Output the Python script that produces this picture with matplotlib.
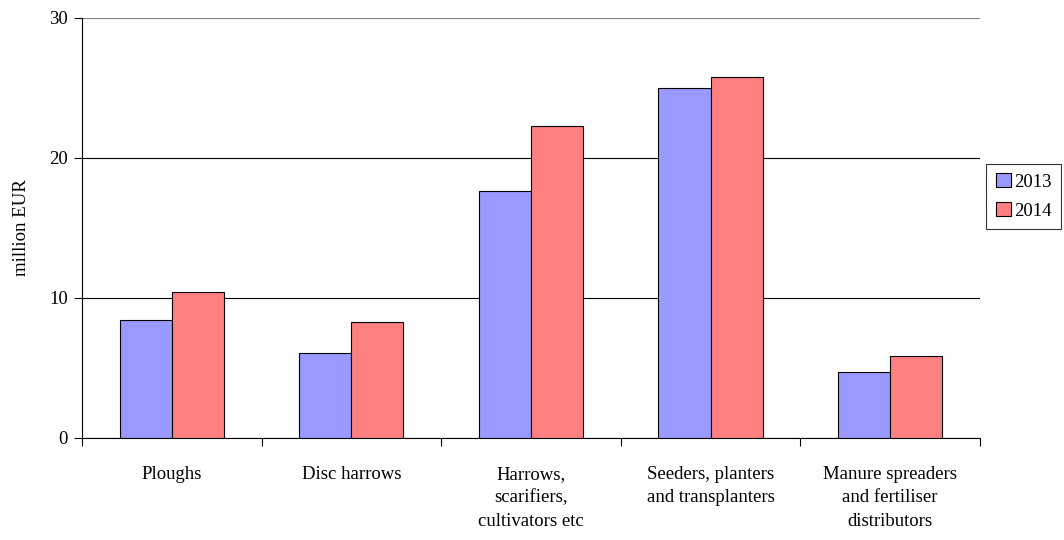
import numpy as np
import matplotlib
matplotlib.use('Agg')
import matplotlib.pyplot as plt

plt.rcParams['font.family'] = ['Liberation Serif', 'DejaVu Serif']

categories = ['Ploughs', 'Disc harrows', 'Harrows,\nscarifiers,\ncultivators etc',
              'Seeders, planters\nand transplanters',
              'Manure spreaders\nand fertiliser\ndistributors']
values_2013 = [8.45, 6.1, 17.65, 25.0, 4.7]
values_2014 = [10.45, 8.3, 22.25, 25.75, 5.85]
series_labels = ['2013', '2014']
colors = ['#9999FF', '#FF8080']

fig = plt.figure(figsize=(10.64, 5.40), dpi=100)
ax = fig.add_axes([0.077, 0.189, 0.844, 0.778])

x = np.arange(len(categories))
width = 0.29
ax.bar(x - width / 2, values_2013, width, color=colors[0], edgecolor='black',
       linewidth=0.8, label=series_labels[0], zorder=3)
ax.bar(x + width / 2, values_2014, width, color=colors[1], edgecolor='black',
       linewidth=0.8, label=series_labels[1], zorder=3)

ax.set_xlim(-0.5, len(categories) - 0.5)
ax.set_ylim(0, 30)
ax.set_yticks([0, 10, 20, 30])
ax.yaxis.grid(True, color='black', linewidth=0.8, zorder=0)
ax.get_ygridlines()[-1].set_color('#808080')
ax.set_axisbelow(True)

# category labels between boundary ticks
ax.set_xticks(np.arange(len(categories) + 1) - 0.5)
ax.set_xticklabels([])
ax.set_xticks(x, minor=True)
ax.set_xticklabels(categories, minor=True, fontsize=13.5, linespacing=1.5)
ax.tick_params(axis='x', which='minor', length=0, pad=20)
ax.tick_params(axis='x', which='major', length=6, direction='out')
ax.tick_params(axis='y', length=6, direction='out', labelsize=13.5, pad=4)

for side in ['top', 'right']:
    ax.spines[side].set_visible(False)

ax.set_ylabel('million EUR', fontsize=13.5, labelpad=14)

leg = fig.legend(loc='upper left', bbox_to_anchor=(0.927, 0.697), fontsize=13.5,
                 frameon=True, fancybox=False, edgecolor='black',
                 handlelength=0.8, handleheight=0.8, handletextpad=0.2,
                 borderpad=0.5, labelspacing=0.6, borderaxespad=0)
leg.get_frame().set_linewidth(0.8)

fig.savefig('out.png', dpi=100)
